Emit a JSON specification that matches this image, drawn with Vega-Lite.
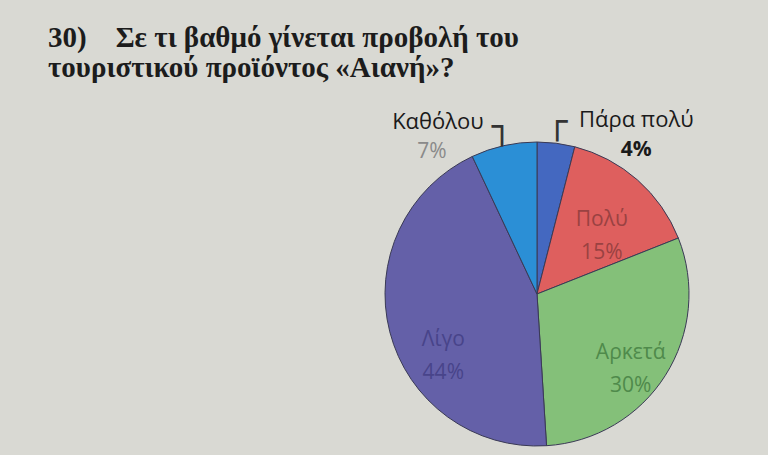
{
  "$schema": "https://vega.github.io/schema/vega-lite/v6.json",
  "width": 304,
  "height": 304,
  "autosize": "none",
  "padding": {"left": 385, "top": 142, "right": 79, "bottom": 9},
  "background": "#d9d9d3",
  "config": {"view": {"stroke": null}},
  "title": {
    "text": ["30)\u00a0\u00a0\u00a0 Σε τι βαθμό γίνεται προβολή του", "τουριστικού προϊόντος «Αιανή»?"],
    "anchor": "start",
    "frame": "group",
    "dx": -337,
    "offset": -6,
    "baseline": "bottom",
    "font": "Liberation Serif",
    "fontSize": 29,
    "fontWeight": "bold",
    "color": "#1c1c1c",
    "lineHeight": 30
  },
  "data": {
    "values": [
      {"name": "Πάρα πολύ", "percent": 4, "idx": 1, "inner": "", "pct": "4%"},
      {"name": "Πολύ", "percent": 15, "idx": 2, "inner": "Πολύ\n15%", "pct": "15%"},
      {"name": "Αρκετά", "percent": 30, "idx": 3, "inner": "Αρκετά\n30%", "pct": "30%"},
      {"name": "Λίγο", "percent": 44, "idx": 4, "inner": "Λίγο\n44%", "pct": "44%"},
      {"name": "Καθόλου", "percent": 7, "idx": 5, "inner": "", "pct": "7%"}
    ]
  },
  "encoding": {
    "theta": {"field": "percent", "type": "quantitative", "stack": true},
    "order": {"field": "idx", "type": "ordinal"}
  },
  "layer": [
    {
      "mark": {"type": "arc", "outerRadius": 152, "stroke": "#3a3a55", "strokeWidth": 1},
      "encoding": {
        "color": {
          "field": "name",
          "type": "nominal",
          "scale": {
            "domain": ["Πάρα πολύ", "Πολύ", "Αρκετά", "Λίγο", "Καθόλου"],
            "range": ["#4468c0", "#de5f5e", "#84c079", "#6460a8", "#2b8fd6"]
          },
          "legend": null
        }
      }
    },
    {
      "mark": {"type": "text", "radius": 98, "fontSize": 21, "lineHeight": 33, "lineBreak": "\n", "font": "Open Sans", "color": "#9a4242", "baseline": "middle"},
      "encoding": {"text": {"condition": {"test": "datum.name === 'Πολύ'", "field": "inner"}, "value": ""}}
    },
    {
      "mark": {"type": "text", "radius": 111, "fontSize": 21, "lineHeight": 33, "lineBreak": "\n", "font": "Open Sans", "color": "#4f8a4b", "baseline": "middle"},
      "encoding": {"text": {"condition": {"test": "datum.name === 'Αρκετά'", "field": "inner"}, "value": ""}}
    },
    {
      "mark": {"type": "text", "radius": 105, "dx": 8, "dy": 20, "fontSize": 21, "lineHeight": 33, "lineBreak": "\n", "font": "Open Sans", "color": "#48448a", "baseline": "middle"},
      "encoding": {"text": {"condition": {"test": "datum.name === 'Λίγο'", "field": "inner"}, "value": ""}}
    },
    {
      "mark": {"type": "text", "radius": 170, "dx": -62, "dy": -6, "fontSize": 22, "font": "Open Sans", "color": "#1a1a1a", "baseline": "middle"},
      "encoding": {"text": {"condition": {"test": "datum.name === 'Καθόλου'", "field": "name"}, "value": ""}}
    },
    {
      "mark": {"type": "text", "radius": 170, "dx": -68, "dy": 24, "fontSize": 21, "font": "Open Sans", "color": "#8a8a8a", "baseline": "middle"},
      "encoding": {"text": {"condition": {"test": "datum.name === 'Καθόλου'", "field": "pct"}, "value": ""}}
    },
    {
      "mark": {"type": "text", "radius": 170, "dx": 78, "dy": -5, "fontSize": 22, "font": "Open Sans", "color": "#1a1a1a", "baseline": "middle"},
      "encoding": {"text": {"condition": {"test": "datum.name === 'Πάρα πολύ'", "field": "name"}, "value": ""}}
    },
    {
      "mark": {"type": "text", "radius": 170, "dx": 78, "dy": 25, "fontSize": 21, "font": "Open Sans", "fontWeight": "bold", "color": "#1a1a1a", "baseline": "middle"},
      "encoding": {"text": {"condition": {"test": "datum.name === 'Πάρα πολύ'", "field": "pct"}, "value": ""}}
    },
    {
      "mark": {"type": "text", "radius": 170, "dx": 2, "dy": 0, "fontSize": 34, "font": "DejaVu Sans Mono", "color": "#333333", "baseline": "middle"},
      "encoding": {"text": {"condition": {"test": "datum.name === 'Καθόλου'", "value": "┐"}, "value": ""}}
    },
    {
      "mark": {"type": "text", "radius": 170, "dx": -1, "dy": -2, "fontSize": 34, "font": "DejaVu Sans Mono", "color": "#333333", "baseline": "middle"},
      "encoding": {"text": {"condition": {"test": "datum.name === 'Πάρα πολύ'", "value": "┌"}, "value": ""}}
    }
  ]
}
